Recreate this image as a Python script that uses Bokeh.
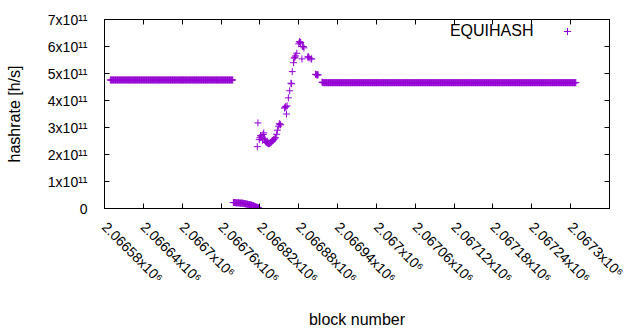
import math
import numpy as np
from bokeh.plotting import figure
from bokeh.models import (Range1d, FixedTicker, LinearAxis, Label, Legend,
                          LegendItem, ColumnDataSource, CustomJSTickFormatter)
from bokeh.embed import file_html
from bokeh.resources import INLINE

# ---------------- data ----------------
# long runs where the hashrate stays constant: one point per block
flat_start_blocks = [2066589, 2066919]
flat_end_blocks = [2066778, 2067308]
flat_levels = [4.76e11, 4.66e11]

# the short dip just after the first plateau (units of 1e11 h/s)
drop_first_block = 2066779
drop_values = [0.22, 0.22, 0.22, 0.22, 0.21, 0.21, 0.21, 0.21, 0.21, 0.21,
               0.20, 0.20, 0.20, 0.20, 0.20, 0.19, 0.19, 0.18, 0.18, 0.17,
               0.17, 0.16, 0.16, 0.15, 0.15, 0.14, 0.14, 0.13, 0.12, 0.12,
               0.11, 0.10, 0.09, 0.08, 0.07, 0.06, 0.05, 0.04, 0.03, 0.02]

# the recovery / overshoot cluster (units of 1e11 h/s)
rise_blocks = [2066816, 2066817, 2066819, 2066820, 2066821, 2066822, 2066824,
               2066825, 2066826, 2066827, 2066828, 2066829, 2066830, 2066831,
               2066832, 2066833, 2066834, 2066835, 2066836, 2066837, 2066838,
               2066839, 2066840, 2066841, 2066843, 2066844, 2066846, 2066847,
               2066849, 2066850, 2066851, 2066852, 2066858, 2066859, 2066860,
               2066861, 2066862, 2066864, 2066866, 2066868, 2066869, 2066870,
               2066872, 2066873, 2066874, 2066875, 2066877, 2066880, 2066881,
               2066882, 2066883, 2066885, 2066886, 2066887, 2066888, 2066894,
               2066895, 2066896, 2066899, 2066900, 2066906, 2066907, 2066908,
               2066909, 2066910, 2066916, 2066917, 2066918]
rise_values = [2.29, 3.17, 2.55, 2.62, 2.70, 2.65, 2.53,
               2.74, 2.80, 2.60, 2.55, 2.47, 2.45, 2.44,
               2.42, 2.40, 2.40, 2.41, 2.43, 2.45, 2.47,
               2.50, 2.52, 2.55, 2.58, 2.62, 2.75, 2.90,
               3.05, 3.14, 3.12, 3.10, 3.72, 3.75, 3.78,
               3.50, 3.80, 4.10, 4.36, 4.64, 4.62, 5.07,
               5.40, 5.57, 5.60, 5.65, 5.75, 6.10, 6.18,
               6.16, 6.15, 5.54, 6.00, 6.00, 5.95, 5.61,
               5.62, 5.58, 5.54, 5.54, 4.97, 4.96, 4.95,
               4.95, 4.95, 4.68, 4.67, 4.66]

series_name = "EQUIHASH"

x_ticks = [2066580, 2066640, 2066700, 2066760, 2066820, 2066880, 2066940,
           2067000, 2067060, 2067120, 2067180, 2067240, 2067300, 2067360]
x_tick_labels = ["2.06658x10\u2076", "2.06664x10\u2076", "2.0667x10\u2076",
                 "2.06676x10\u2076", "2.06682x10\u2076", "2.06688x10\u2076",
                 "2.06694x10\u2076", "2.067x10\u2076", "2.06706x10\u2076",
                 "2.06712x10\u2076", "2.06718x10\u2076", "2.06724x10\u2076",
                 "2.0673x10\u2076", "2.06736x10\u2076"]
y_ticks = [0, 1e11, 2e11, 3e11, 4e11, 5e11, 6e11, 7e11]
y_tick_labels = ["0", "1x10\u00b9\u00b9", "2x10\u00b9\u00b9", "3x10\u00b9\u00b9",
                 "4x10\u00b9\u00b9", "5x10\u00b9\u00b9", "6x10\u00b9\u00b9",
                 "7x10\u00b9\u00b9"]

# ---------------- build the point table ----------------
blocks = []
rates = []
blocks += list(range(flat_start_blocks[0], flat_end_blocks[0] + 1))
rates += [flat_levels[0]] * (flat_end_blocks[0] - flat_start_blocks[0] + 1)
blocks += [drop_first_block + i for i in range(len(drop_values))]
rates += [v * 1e11 for v in drop_values]
blocks += rise_blocks
rates += [v * 1e11 for v in rise_values]
blocks += list(range(flat_start_blocks[1], flat_end_blocks[1] + 1))
rates += [flat_levels[1]] * (flat_end_blocks[1] - flat_start_blocks[1] + 1)

source = ColumnDataSource(data=dict(block=blocks, rate=rates))

FONT = "Liberation Sans"
COLOR = "#9400D3"
X_LABEL_STANDOFF = 16
X_LABEL_ANGLE = -math.pi / 4

p = figure(width=640, height=330, output_backend="svg", toolbar_location=None,
           x_range=Range1d(x_ticks[0], x_ticks[-1]),
           y_range=Range1d(y_ticks[0], y_ticks[-1]),
           min_border_left=104, min_border_right=31,
           min_border_top=19, min_border_bottom=119)
p.grid.visible = False
p.outline_line_color = "black"
p.outline_line_width = 1
p.background_fill_color = "white"
p.border_fill_color = "white"

r = p.scatter("block", "rate", source=source, marker="cross", size=7,
              line_color=COLOR, line_width=1)

# bottom axis (the last label runs off the page edge, as in the original,
# so it is drawn separately below and left blank on the axis)
overrides = {t: l for t, l in zip(x_ticks, x_tick_labels)}
overrides[x_ticks[-1]] = ""
xa = p.xaxis[0]
xa.ticker = FixedTicker(ticks=x_ticks)
xa.major_label_overrides = overrides
xa.major_label_orientation = X_LABEL_ANGLE
xa.major_tick_in = 5
xa.major_tick_out = 0
xa.minor_tick_line_color = None
xa.major_label_standoff = X_LABEL_STANDOFF
xa.major_label_text_font = FONT
xa.major_label_text_font_size = "14px"
xa.major_label_text_color = "black"
xa.axis_line_color = "black"
xa.major_tick_line_color = "black"
xa.axis_label = "block number"
xa.axis_label_text_font = FONT
xa.axis_label_text_font_size = "16px"
xa.axis_label_text_font_style = "normal"
xa.axis_label_text_color = "black"
xa.axis_label_standoff = 16

p.add_layout(Label(x=x_ticks[-1], y=y_ticks[0], x_units="data",
                   y_units="data", y_offset=-X_LABEL_STANDOFF,
                   text=x_tick_labels[-1],
                   angle=X_LABEL_ANGLE, text_align="left",
                   text_baseline="middle", text_font=FONT,
                   text_font_size="14px", text_color="black"))

# left axis
ya = p.yaxis[0]
ya.ticker = FixedTicker(ticks=y_ticks)
ya.major_label_overrides = {t: l for t, l in zip(y_ticks, y_tick_labels)}
ya.major_tick_in = 5
ya.major_tick_out = 0
ya.minor_tick_line_color = None
ya.major_label_standoff = 17
ya.major_label_text_font = FONT
ya.major_label_text_font_size = "14px"
ya.major_label_text_color = "black"
ya.axis_line_color = "black"
ya.major_tick_line_color = "black"
ya.axis_label = "hashrate [h/s]"
ya.axis_label_text_font = FONT
ya.axis_label_text_font_size = "16px"
ya.axis_label_text_font_style = "normal"
ya.axis_label_text_color = "black"
ya.axis_label_standoff = 22

# mirrored tick marks on top and right (no labels)
blank = CustomJSTickFormatter(code="return ''")
top = LinearAxis(ticker=FixedTicker(ticks=x_ticks), formatter=blank,
                 major_tick_in=5, major_tick_out=0, minor_tick_line_color=None,
                 major_label_standoff=0, axis_line_color="black",
                 major_tick_line_color="black", major_label_text_font_size="1px")
right = LinearAxis(ticker=FixedTicker(ticks=y_ticks), formatter=blank,
                   major_tick_in=5, major_tick_out=0, minor_tick_line_color=None,
                   major_label_standoff=0, axis_line_color="black",
                   major_tick_line_color="black", major_label_text_font_size="1px")
p.add_layout(top, "above")
p.add_layout(right, "right")

# key: text right-aligned, sample symbol to its right (gnuplot style)
p.add_layout(Label(x=429, y=178, x_units="screen", y_units="screen",
                   text=series_name, text_align="right", text_baseline="middle",
                   text_font=FONT, text_font_size="16px", text_color="black"))
legend = Legend(items=[LegendItem(label=" ", renderers=[r])],
                location=(454, 168), glyph_width=18, glyph_height=18,
                padding=0, margin=0, spacing=0, label_standoff=0,
                label_width=0, label_height=0, label_text_font_size="8px",
                border_line_color=None, background_fill_alpha=0)
p.add_layout(legend, "center")

open("out.html", "w").write(file_html(p, INLINE))
